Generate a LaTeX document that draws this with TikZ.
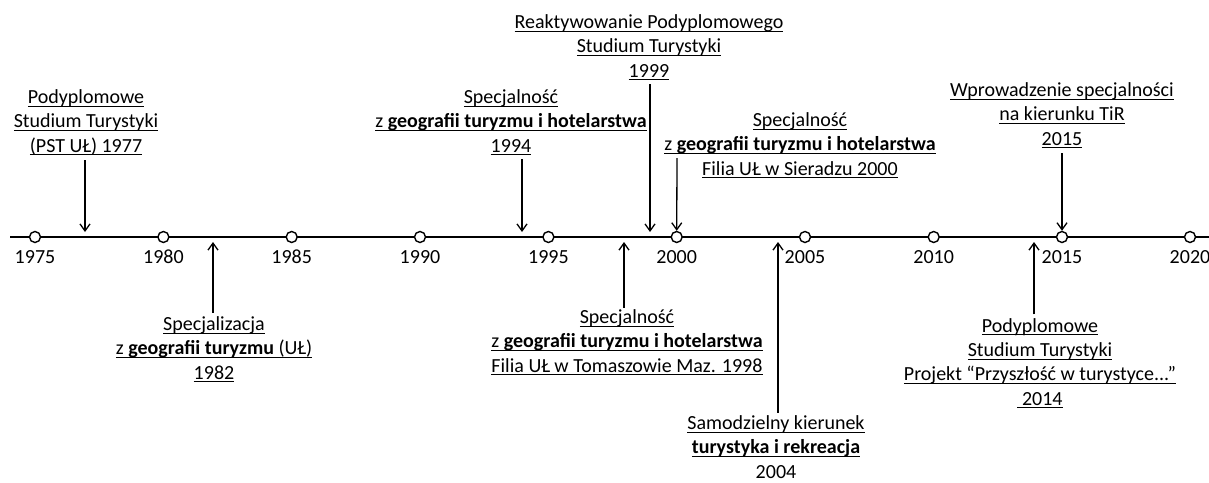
\documentclass[tikz,border=0pt]{standalone}
\usepackage{fontspec}
\setmainfont{Carlito}
\usetikzlibrary{arrows.meta}
\newcommand{\uln}[1]{\setbox0=\hbox{#1}\rlap{\rule[-3pt]{\wd0}{1pt}}\box0}

\begin{document}
\begin{tikzpicture}[x=1pt,y=-1pt]
\tikzset{tick/.style={draw,circle,fill=white,line width=1.4pt,minimum size=11pt,inner sep=0pt}}
\tikzset{yearlbl/.style={inner sep=0pt,font=\fontsize{20}{24}\selectfont}}
\tikzset{event/.style={align=center,inner sep=0pt,anchor=base,font=\fontsize{20}{24.2}\selectfont}}
\tikzset{arr/.style={-{Straight Barb[length=7pt,width=10pt]},line width=1.3pt}}

\useasboundingbox (0,0) rectangle (1209,482);

%% Time axis
\draw[line width=2pt] (10,237) -- (1209,237);

\begin{scope}
    \node[tick] at (35,237) (y1975) {};
    \node[tick] at (163.4,237) (y1980) {};
    \node[tick] at (291.7,237) (y1985) {};
    \node[tick] at (420,237) (y1990) {};
    \node[tick] at (548.4,237) (y1995) {};
    \node[tick] at (676.7,237) (y2000) {};
    \node[tick] at (805,237) (y2005) {};
    \node[tick] at (933.7,237) (y2010) {};
    \node[tick] at (1062,237) (y2015) {};
    \node[tick] at (1190,237) (y2020) {};
\end{scope}

\begin{scope}
    \node[yearlbl] at (35,257) (l1975) {1975};
    \node[yearlbl] at (163.4,257) (l1980) {1980};
    \node[yearlbl] at (291.7,257) (l1985) {1985};
    \node[yearlbl] at (420,257) (l1990) {1990};
    \node[yearlbl] at (548.4,257) (l1995) {1995};
    \node[yearlbl] at (676.7,257) (l2000) {2000};
    \node[yearlbl] at (805,257) (l2005) {2005};
    \node[yearlbl] at (933.7,257) (l2010) {2010};
    \node[yearlbl] at (1062,257) (l2015) {2015};
    \node[yearlbl] at (1190,257) (l2020) {2020};
\end{scope}

%% Events above the axis (anchored at the baseline of the last line)
\node[event] at (86,152) (ev1977) {\uln{Podyplomowe}\\\uln{Studium Turystyki}\\\uln{(PST UŁ) 1977}};
\node[event] at (511,152) (ev1994) {\uln{Specjalność}\\\uln{z \textbf{geografii turyzmu i hotelarstwa}}\\\uln{1994}};
\node[event] at (649,77) (ev1999) {\uln{Reaktywowanie Podyplomowego}\\\uln{Studium Turystyki}\\\uln{1999}};
\node[event] at (800,175) (ev2000) {\uln{Specjalność}\\\uln{z \textbf{geografii turyzmu i hotelarstwa}}\\\uln{Filia UŁ w Sieradzu 2000}};
\node[event] at (1062,145) (ev2015) {\uln{Wprowadzenie specjalności}\\\uln{na kierunku TiR}\\\uln{2015}};

%% Events below the axis
\node[event] at (214,379) (ev1982) {\uln{Specjalizacja}\\\uln{z \textbf{geografii turyzmu} (UŁ)}\\\uln{1982}};
\node[event] at (627,372) (ev1998) {\uln{Specjalność}\\\uln{z \textbf{geografii turyzmu i hotelarstwa}}\\\uln{Filia UŁ w Tomaszowie Maz. 1998}};
\node[event] at (776,478) (ev2004) {\uln{Samodzielny kierunek}\\\uln{\textbf{turystyka i rekreacja}}\\2004};
\node[event] at (1040,405) (ev2014) {\uln{Podyplomowe}\\\uln{Studium Turystyki}\\\uln{Projekt “Przyszłość w turystyce...”}\\\uln{~2014}};

% points on the axis
\coordinate (t1977) at (85,237);
\coordinate (t1982) at (213,237);
\coordinate (t1994) at (522,237);
\coordinate (t1998) at (624,237);
\coordinate (t1999) at (650,237);
\coordinate (t2004) at (778,237);
\coordinate (t2014) at (1034,237);
\coordinate (s2000) at (677,158);

\draw[arr, shorten <=5pt, shorten >=5pt] (t1977 |- ev1977.south) -- (t1977);
\draw[arr, shorten <=4pt, shorten >=5pt] (t1994 |- ev1994.south) -- (t1994);
\draw[arr, shorten <=4pt, shorten >=5pt] (t1999 |- ev1999.south) -- (t1999);
\draw[arr] (s2000) -- (y2000);
\draw[arr, shorten <=5pt] (y2015 |- ev2015.south) -- (y2015);

\draw[arr, shorten <=4pt, shorten >=5pt] (t1982 |- ev1982.north) -- (t1982);
\draw[arr, shorten <=2pt, shorten >=5pt] (t1998 |- ev1998.north) -- (t1998);
\draw[arr, shorten <=3pt, shorten >=5pt] (t2004 |- ev2004.north) -- (t2004);
\draw[arr, shorten <=4pt, shorten >=5pt] (t2014 |- ev2014.north) -- (t2014);

\end{tikzpicture}
\end{document}
